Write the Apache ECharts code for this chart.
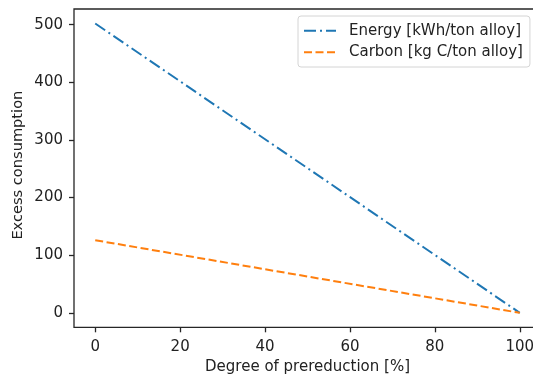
<!DOCTYPE html>
<html>
<head>
<meta charset="utf-8">
<script src="https://cdn.jsdelivr.net/npm/echarts@6/dist/echarts.min.js"></script>
<style>
html,body{margin:0;padding:0;background:#fff;}
#c{width:533px;height:376px;}
</style>
</head>
<body>
<div id="c"></div>
<script>
const xValues = [0, 100];
const energy = [502, 0];
const carbon = [126, 0];
const xTicks = [0, 20, 40, 60, 80, 100];
const yTicks = [0, 100, 200, 300, 400, 500];
const seriesNames = ['Energy [kWh/ton alloy]', 'Carbon [kg C/ton alloy]'];

const font = 'DejaVu Sans';
const fs = 15;
const dashDot = [12, 4, 2, 4];
const dashed = [8, 3.5];
const chart = echarts.init(document.getElementById('c'), null, {renderer: 'canvas'});
const dMax = Math.max(...energy, ...carbon);
chart.setOption({
  animation: false,
  textStyle: {fontFamily: font},
  grid: {left: 74, top: 9, right: -8, bottom: 48.7, outerBoundsMode: 'none', containLabel: false,
         show: true, borderColor: '#262626', borderWidth: 1.3, backgroundColor: 'transparent'},
  legend: {
    orient: 'vertical', left: 298, top: 16,
    itemWidth: 32, itemHeight: 15, itemGap: 6.6,
    padding: [7.2, 7, 7.2, 5],
    backgroundColor: '#fff', borderColor: '#d4d4d4', borderWidth: 1, borderRadius: 3,
    itemStyle: {opacity: 0},
    textStyle: {fontFamily: font, fontSize: fs, lineHeight: 15, color: '#222', padding: [0, 0, 0, 8]},
    data: [
      {name: seriesNames[0], lineStyle: {type: dashDot, width: 2, color: '#1f77b4'}},
      {name: seriesNames[1], lineStyle: {type: dashed, width: 2, color: '#ff7f0e'}}
    ]
  },
  xAxis: {
    type: 'value', min: -5, max: 105,
    name: 'Degree of prereduction [%]', nameLocation: 'middle', nameGap: 32, nameMoveOverlap: false,
    nameTextStyle: {fontFamily: font, fontSize: fs, color: '#222'},
    axisLine: {show: false, onZero: false},
    splitLine: {show: false},
    axisTick: {show: true, inside: false, length: 5, lineStyle: {color: '#262626', width: 1.3}, customValues: xTicks},
    axisLabel: {fontFamily: font, fontSize: fs, color: '#222', margin: 12, customValues: xTicks}
  },
  yAxis: {
    type: 'value', min: -0.05 * dMax, max: 1.05 * dMax,
    name: 'Excess consumption', nameLocation: 'middle', nameGap: 48, nameMoveOverlap: false,
    nameTextStyle: {fontFamily: font, fontSize: 14.6, color: '#222', padding: [0, 0, 0, 6]},
    axisLine: {show: false, onZero: false},
    splitLine: {show: false},
    axisTick: {show: true, inside: false, length: 5, lineStyle: {color: '#262626', width: 1.3}, customValues: yTicks},
    axisLabel: {fontFamily: font, fontSize: fs, color: '#222', margin: 11, customValues: yTicks}
  },
  series: [
    {
      name: seriesNames[0], type: 'line', symbol: 'none',
      data: xValues.map((x, i) => [x, energy[i]]),
      lineStyle: {color: '#1f77b4', width: 2, type: dashDot},
      itemStyle: {color: '#1f77b4'}
    },
    {
      name: seriesNames[1], type: 'line', symbol: 'none',
      data: xValues.map((x, i) => [x, carbon[i]]),
      lineStyle: {color: '#ff7f0e', width: 2, type: dashed},
      itemStyle: {color: '#ff7f0e'}
    }
  ]
});
</script>
</body>
</html>
